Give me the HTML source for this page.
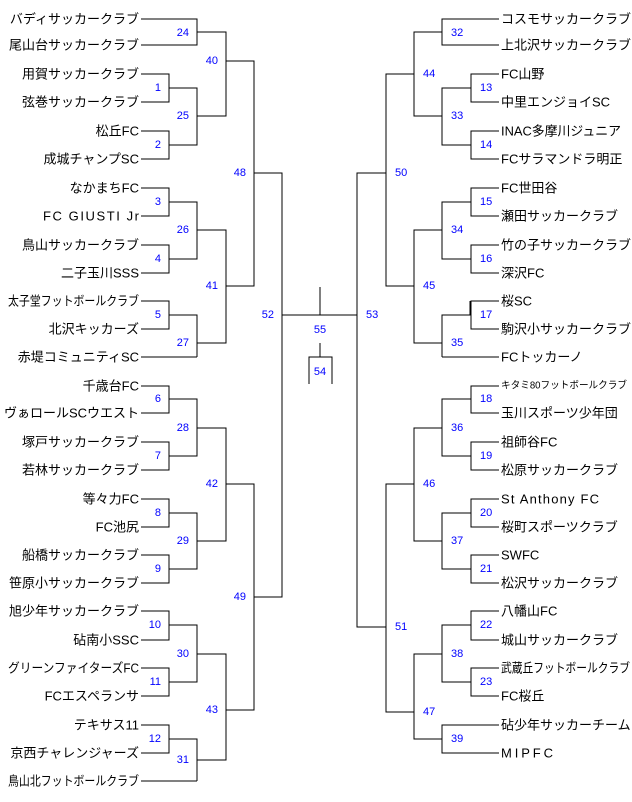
<!DOCTYPE html>
<html><head><meta charset="utf-8"><style>
html,body{margin:0;padding:0;background:#fff;}
svg{display:block;}
.t{font-family:"Liberation Sans","Noto Sans CJK JP",sans-serif;font-size:13px;fill:#000;dominant-baseline:central;}
.n{font-family:"Liberation Sans",sans-serif;font-size:11px;fill:#0000ff;dominant-baseline:central;}
</style></head><body>
<svg width="632" height="802" viewBox="0 0 632 802" xmlns="http://www.w3.org/2000/svg">
<g stroke="#000" stroke-width="1" fill="none" shape-rendering="crispEdges">
<path d="M141 19H197V45H141"/>
<path d="M141 74H169V102H141M141 131H169V159H141M141 188H169V216H141M141 245H169V273H141M141 301H169V329H141M141 386H169V413H141M141 442H169V470H141M141 499H169V527H141M141 555H169V583H141M141 611H169V640H141M141 668H169V696H141M141 725H169V753H141"/>
<path d="M141 357H197M141 781H197"/>
<path d="M169 88H197V145H169M169 202H197V259H169M169 315H197V357M169 399H197V456H169M169 513H197V569H169M169 625H197V682H169M169 739H197V781"/>
<path d="M197 32H226V116H197M197 230H226V343H197M197 428H226V541H197M197 654H226V760H197"/>
<path d="M226 61H254V286H226M226 484H254V710H226"/>
<path d="M254 173H282V597H254M282 315H357"/>
<path d="M320 287V315M320 343V357M309 384V357H332V384"/>
<path d="M499 19H442V45H499M499 357H442M499 725H442V753H499"/>
<path d="M499 74H471V102H499M499 131H471V159H499M499 188H471V216H499M499 245H471V273H499M499 301H471V329H499M499 386H471V413H499M499 442H471V470H499M499 499H471V527H499M499 555H471V583H499M499 611H471V640H499M499 668H471V696H499"/>
<path d="M470 301V315"/>
<path d="M471 88H442V145H471M471 202H442V259H471M471 315H442V357M471 399H442V456H471M471 513H442V569H471M471 625H442V682H471"/>
<path d="M442 32H414V116H442M442 230H414V343H442M442 428H414V541H442M442 654H414V739H442"/>
<path d="M414 74H386V286H414M414 484H386V712H414"/>
<path d="M386 173H357V627H386"/>
</g>
<g class="t" text-anchor="end">
<text x="139" y="19">バディサッカークラブ</text>
<text x="139" y="45">尾山台サッカークラブ</text>
<text x="139" y="74">用賀サッカークラブ</text>
<text x="139" y="102">弦巻サッカークラブ</text>
<text x="139" y="131">松丘FC</text>
<text x="139" y="159">成城チャンプSC</text>
<text x="139" y="188">なかまちFC</text>
<text x="139" y="216" textLength="96" lengthAdjust="spacing">FC GIUSTI Jr</text>
<text x="139" y="245">鳥山サッカークラブ</text>
<text x="139" y="273">二子玉川SSS</text>
<text x="139" y="301" textLength="131" lengthAdjust="spacingAndGlyphs">太子堂フットボールクラブ</text>
<text x="139" y="329">北沢キッカーズ</text>
<text x="139" y="357">赤堤コミュニティSC</text>
<text x="139" y="386">千歳台FC</text>
<text x="139" y="413">ヴぁロールSCウエスト</text>
<text x="139" y="442">塚戸サッカークラブ</text>
<text x="139" y="470">若林サッカークラブ</text>
<text x="139" y="499">等々力FC</text>
<text x="139" y="527">FC池尻</text>
<text x="139" y="555">船橋サッカークラブ</text>
<text x="139" y="583">笹原小サッカークラブ</text>
<text x="139" y="611">旭少年サッカークラブ</text>
<text x="139" y="640">砧南小SSC</text>
<text x="139" y="668" textLength="131" lengthAdjust="spacingAndGlyphs">グリーンファイターズFC</text>
<text x="139" y="696">FCエスペランサ</text>
<text x="139" y="725">テキサス11</text>
<text x="139" y="753">京西チャレンジャーズ</text>
<text x="139" y="781" textLength="131" lengthAdjust="spacingAndGlyphs">鳥山北フットボールクラブ</text>
</g>
<g class="t">
<text x="501" y="19">コスモサッカークラブ</text>
<text x="501" y="45">上北沢サッカークラブ</text>
<text x="501" y="74">FC山野</text>
<text x="501" y="102">中里エンジョイSC</text>
<text x="501" y="131" textLength="120" lengthAdjust="spacingAndGlyphs">INAC多摩川ジュニア</text>
<text x="501" y="159">FCサラマンドラ明正</text>
<text x="501" y="188">FC世田谷</text>
<text x="501" y="216">瀬田サッカークラブ</text>
<text x="501" y="245">竹の子サッカークラブ</text>
<text x="501" y="273">深沢FC</text>
<text x="501" y="301">桜SC</text>
<text x="501" y="329">駒沢小サッカークラブ</text>
<text x="501" y="357">FCトッカーノ</text>
<text x="501" y="386" style="font-size:10px" textLength="126" lengthAdjust="spacingAndGlyphs">キタミ80フットボールクラブ</text>
<text x="501" y="413">玉川スポーツ少年団</text>
<text x="501" y="442">祖師谷FC</text>
<text x="501" y="470">松原サッカークラブ</text>
<text x="501" y="499" textLength="98" lengthAdjust="spacing">St Anthony FC</text>
<text x="501" y="527">桜町スポーツクラブ</text>
<text x="501" y="555">SWFC</text>
<text x="501" y="583">松沢サッカークラブ</text>
<text x="501" y="611">八幡山FC</text>
<text x="501" y="640">城山サッカークラブ</text>
<text x="501" y="668" textLength="129" lengthAdjust="spacingAndGlyphs">武蔵丘フットボールクラブ</text>
<text x="501" y="696">FC桜丘</text>
<text x="501" y="725">砧少年サッカーチーム</text>
<text x="501" y="753" textLength="52" lengthAdjust="spacing">MIPFC</text>
</g>
<g class="n" text-anchor="end">
<text x="161" y="88">1</text><text x="161" y="145">2</text><text x="161" y="202">3</text><text x="161" y="259">4</text><text x="161" y="315">5</text><text x="161" y="399">6</text><text x="161" y="456">7</text><text x="161" y="513">8</text><text x="161" y="569">9</text><text x="161" y="625">10</text><text x="161" y="682">11</text><text x="161" y="739">12</text>
<text x="189" y="33">24</text><text x="189" y="116">25</text><text x="189" y="230">26</text><text x="189" y="343">27</text><text x="189" y="428">28</text><text x="189" y="541">29</text><text x="189" y="654">30</text><text x="189" y="760">31</text>
<text x="218" y="61">40</text><text x="218" y="286">41</text><text x="218" y="484">42</text><text x="218" y="710">43</text>
<text x="246" y="173">48</text><text x="246" y="597">49</text>
<text x="274" y="315">52</text>
</g>
<g class="n" text-anchor="middle">
<text x="320" y="330">55</text><text x="320" y="372">54</text>
</g>
<g class="n">
<text x="480" y="88">13</text><text x="480" y="145">14</text><text x="480" y="202">15</text><text x="480" y="259">16</text><text x="480" y="315">17</text><text x="480" y="399">18</text><text x="480" y="456">19</text><text x="480" y="513">20</text><text x="480" y="569">21</text><text x="480" y="625">22</text><text x="480" y="682">23</text>
<text x="451" y="33">32</text><text x="451" y="116">33</text><text x="451" y="230">34</text><text x="451" y="343">35</text><text x="451" y="428">36</text><text x="451" y="541">37</text><text x="451" y="654">38</text><text x="451" y="739">39</text>
<text x="423" y="74">44</text><text x="423" y="286">45</text><text x="423" y="484">46</text><text x="423" y="712">47</text>
<text x="395" y="173">50</text><text x="395" y="627">51</text>
<text x="366" y="315">53</text>
</g>
</svg>
</body></html>
